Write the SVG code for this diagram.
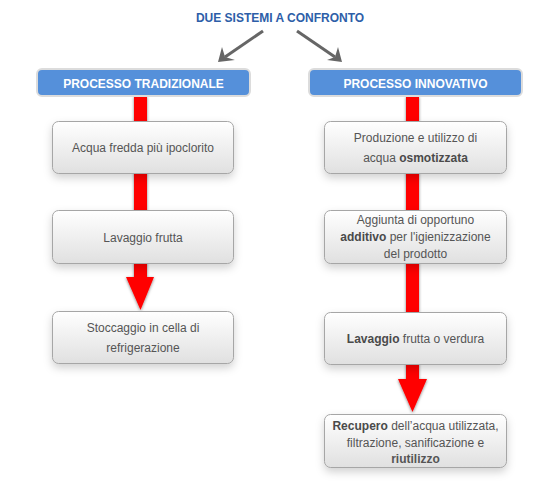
<svg xmlns="http://www.w3.org/2000/svg" width="560" height="488" viewBox="0 0 560 488">
<defs>
<linearGradient id="boxg" x1="0" y1="0" x2="0" y2="1">
<stop offset="0" stop-color="#ffffff"/>
<stop offset="1" stop-color="#e0e0e0"/>
</linearGradient>
<filter id="sh" x="-20%" y="-20%" width="140%" height="160%">
<feDropShadow dx="0" dy="4" stdDeviation="4" flood-color="#000" flood-opacity="0.18"/>
</filter>
<filter id="hsh" x="-40%" y="-40%" width="180%" height="180%">
<feDropShadow dx="0" dy="1" stdDeviation="1.5" flood-color="#000" flood-opacity="0.5"/>
</filter>
</defs>
<style>
.title{font-family:"Liberation Sans",Arial,sans-serif;font-size:12px;font-weight:bold;fill:#2d5ea8;text-anchor:middle}
.hdr rect{fill:#5590da;stroke:#dcdcdc;stroke-width:2}
.hdr text{font-family:"Liberation Sans",Arial,sans-serif;font-size:12px;font-weight:bold;fill:#ffffff;text-anchor:middle}
.box rect{fill:url(#boxg);stroke:#a6a6a6;stroke-width:1;filter:url(#sh)}
.box text{font-family:"Liberation Sans",Arial,sans-serif;font-size:12px;fill:#555555;text-anchor:middle}
.b{font-weight:bold;fill:#4a4a4a}
.gray{stroke:#666666;stroke-width:3;fill:none}
.grayhead{fill:#666666}
.red{fill:#ff0000}
</style>
<g id="connectors">
<line class="gray" x1="263" y1="31" x2="225" y2="57"/>
<path class="grayhead" d="M218,62 L222,47 L225,57 L235,60 Z"/>
<line class="gray" x1="297" y1="31" x2="335" y2="57"/>
<path class="grayhead" d="M342,62 L327,60 L335,57 L338,47 Z"/>
<g filter="url(#hsh)">
<path class="red" d="M134,96 H147 V277 H154 L140.5,310 L126,277 H134 Z"/>
<path class="red" d="M406,96 H419 V379 H427 L412.5,412 L398,379 H406 Z"/>
</g>
</g>
<text id="title" class="title" x="280" y="22">DUE SISTEMI A CONFRONTO</text>
<g id="hdr-trad" class="hdr">
<rect x="37" y="69" width="213" height="27" rx="5"/>
<text x="143.5" y="87.5">PROCESSO TRADIZIONALE</text>
</g>
<g id="hdr-inno" class="hdr">
<rect x="309" y="69" width="213" height="27" rx="5"/>
<text x="415.5" y="87.5">PROCESSO INNOVATIVO</text>
</g>
<g id="t1" class="box">
<rect x="52.5" y="121.5" width="181" height="52" rx="6"/>
<text x="143" y="152">Acqua fredda più ipoclorito</text>
</g>
<g id="t2" class="box">
<rect x="52.5" y="210.5" width="181" height="53" rx="6"/>
<text x="143" y="241.5">Lavaggio frutta</text>
</g>
<g id="t3" class="box">
<rect x="52.5" y="311.5" width="181" height="52" rx="6"/>
<text x="143" y="332">Stoccaggio in cella di</text>
<text x="143" y="352">refrigerazione</text>
</g>
<g id="i1" class="box">
<rect x="324.5" y="121.5" width="182" height="52" rx="6"/>
<text x="415.5" y="142">Produzione e utilizzo di</text>
<text x="415.5" y="162">acqua <tspan class="b">osmotizzata</tspan></text>
</g>
<g id="i2" class="box">
<rect x="324.5" y="210.5" width="182" height="53" rx="6"/>
<text x="415.5" y="224">Aggiunta di opportuno</text>
<text x="415.5" y="241"><tspan class="b">additivo</tspan> per l'igienizzazione</text>
<text x="415.5" y="257.5">del prodotto</text>
</g>
<g id="i3" class="box">
<rect x="324.5" y="312.5" width="182" height="52" rx="6"/>
<text x="415.5" y="342.5"><tspan class="b">Lavaggio</tspan> frutta o verdura</text>
</g>
<g id="i4" class="box">
<rect x="324.5" y="414.5" width="182" height="53" rx="6"/>
<text x="415.5" y="430"><tspan class="b">Recupero</tspan> dell’acqua utilizzata,</text>
<text x="415.5" y="447">filtrazione, sanificazione e</text>
<text x="415.5" y="463" class="b">riutilizzo</text>
</g>
</svg>
